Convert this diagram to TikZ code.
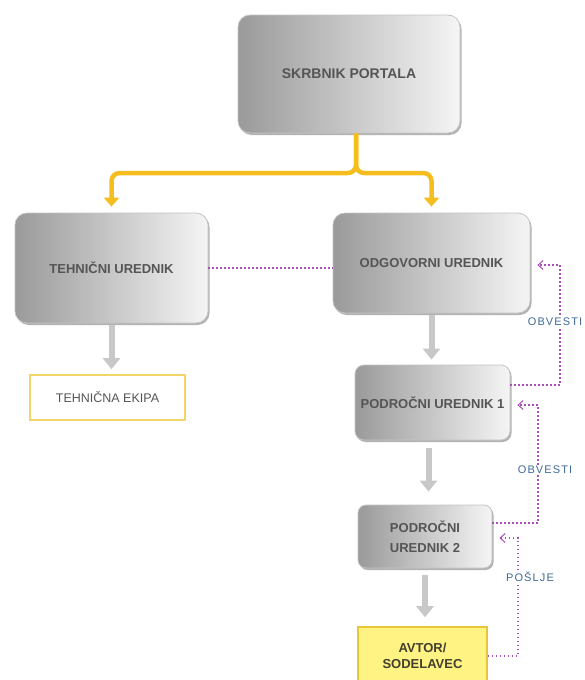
\documentclass[tikz,border=0pt]{standalone}
\usepackage{fontspec}
\setmainfont{Liberation Sans}
\newfontfamily\notefont[LetterSpace=10]{Liberation Sans}
\usetikzlibrary{arrows.meta,shadows}

\definecolor{leadgold}{HTML}{F5BE1E}
\definecolor{flowgray}{HTML}{C8C8C8}
\definecolor{linkpurple}{HTML}{A850B8}
\definecolor{noteblue}{HTML}{3F6A9A}
\definecolor{textgray}{HTML}{555555}
\definecolor{boxgray}{HTML}{9A9A9A}
\definecolor{rimgray}{HTML}{C4C4C4}
\definecolor{authorfill}{HTML}{FFF383}
\definecolor{authordraw}{HTML}{E8C53A}
\definecolor{teamdraw}{HTML}{F2D66A}

\begin{document}
\begin{tikzpicture}[x=1pt, y=-1pt,
    roleBox/.style={rounded corners=12pt, draw=rimgray, line width=0.8pt,
        left color=boxgray, right color=white!96!black,
        drop shadow={shadow xshift=1.5pt, shadow yshift=-2pt, fill=black, opacity=0.3},
        font=\bfseries\fontsize{13}{20}\selectfont, text=textgray,
        align=center, inner sep=0pt},
    teamBox/.style={draw=teamdraw, line width=1.6pt, fill=white,
        font=\fontsize{12.5}{15}\selectfont, text=textgray, inner sep=0pt},
    authorBox/.style={draw=authordraw, line width=1.6pt, fill=authorfill,
        font=\bfseries\fontsize{13}{16}\selectfont, text=black!70!olive,
        align=center, inner sep=0pt},
    leadArrow/.style={draw=leadgold, line width=4.5pt, rounded corners=8pt,
        -{Triangle[width=15pt,length=9pt]}, shorten >=6pt},
    flowArrow/.style={draw=flowgray, line width=6pt,
        -{Triangle[width=17pt,length=11pt]}, shorten >=5pt, shorten <=2pt},
    linkLine/.style={draw=linkpurple, line width=1.2pt, dash pattern=on 1.5pt off 2.5pt},
    notifyArrow/.style={linkLine, -{Straight Barb[length=5pt,width=9pt,line width=1pt]},
        shorten >=7pt},
    noteLabel/.style={fill=white, inner sep=1pt, text=noteblue,
        font=\notefont\fontsize{11}{13}\selectfont}]

    %--------------------%
    % Frame
    %--------------------%
    \useasboundingbox (0,0) rectangle (584,680);

    %--------------------%
    % Boxes
    %--------------------%
    \node[roleBox, font=\bfseries\fontsize{14}{20}\selectfont, minimum width=222pt, minimum height=118pt] (skrbnik) at (349,74) {SKRBNIK PORTALA};
    \node[roleBox, minimum width=193pt, minimum height=110pt] (tehnicni) at (111.5,268) {TEHNIČNI UREDNIK};
    \node[roleBox, minimum width=197pt, minimum height=100pt] (odgovorni) at (431.5,263) {ODGOVORNI UREDNIK};
    \node[roleBox, rounded corners=9pt, minimum width=155pt, minimum height=75pt] (podrocni1) at (432.5,402.5) {PODROČNI UREDNIK 1};
    \node[roleBox, rounded corners=8pt, minimum width=134pt, minimum height=63pt] (podrocni2) at (425,536.5) {PODROČNI\\UREDNIK 2};
    \node[teamBox, minimum width=155pt, minimum height=45pt] (ekipa) at (107.5,397.5) {TEHNIČNA EKIPA};
    \node[authorBox, minimum width=129pt, minimum height=58pt] (avtor) at (422.5,656) {AVTOR/\\SODELAVEC};

    %--------------------%
    % Main lines
    %--------------------%
    \coordinate (split) at (356,173);
    \draw[leadArrow] (skrbnik.south -| split) -- (split) -| (tehnicni.north);
    \draw[leadArrow] (skrbnik.south -| split) -- (split) -| (odgovorni.north);

    \draw[flowArrow] (tehnicni.south) -- (tehnicni.south |- ekipa.north);
    \draw[flowArrow] (odgovorni.south) -- (odgovorni.south |- podrocni1.north);
    \draw[flowArrow, shorten <=8pt, shorten >=13pt] ([xshift=-4pt]podrocni1.south) -- ([xshift=-4pt]podrocni1.south |- podrocni2.north);
    \draw[flowArrow, shorten <=7pt, shorten >=9pt] (podrocni2.south) -- (podrocni2.south |- avtor.north);

    %--------------------%
    % Notify lines
    %--------------------%
    \draw[linkLine] (tehnicni.east) -- (tehnicni.east -| odgovorni.west);

    \coordinate (bend1) at (560,265);
    \coordinate (bend2) at (538,405);
    \coordinate (bend3) at (518,538);
    \draw[notifyArrow] ([yshift=17.5pt]podrocni1.east) -| (bend1) -- (bend1 -| odgovorni.east);
    \draw[notifyArrow] ([yshift=13.5pt]podrocni2.east) -| (bend2) -- (bend2 -| podrocni1.east);
    \draw[notifyArrow] (avtor.east) -| (bend3) -- (bend3 -| podrocni2.east);

    \node[noteLabel] (obvesti1) at (555,322) {OBVESTI};
    \node[noteLabel] (obvesti2) at (545,470) {OBVESTI};
    \node[noteLabel] (poslje) at (530,577) {POŠLJE};
\end{tikzpicture}
\end{document}
